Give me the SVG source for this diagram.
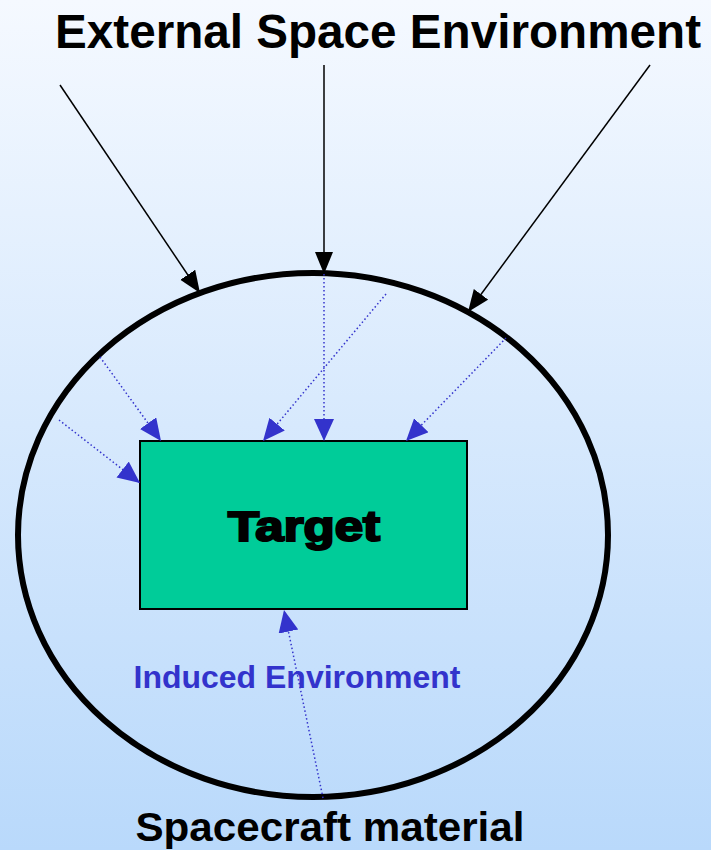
<svg xmlns="http://www.w3.org/2000/svg" width="711" height="850" viewBox="0 0 711 850">
  <defs>
    <linearGradient id="bg" x1="0" y1="0" x2="0" y2="1">
      <stop offset="0" stop-color="#F5F9FF"/>
      <stop offset="1" stop-color="#B9D9FB"/>
    </linearGradient>
    <marker id="blk" markerUnits="userSpaceOnUse" markerWidth="24" markerHeight="20" refX="22" refY="9" orient="auto">
      <path d="M0,0 L22,9 L0,18 Z" fill="#000"/>
    </marker>
    <marker id="blu" markerUnits="userSpaceOnUse" markerWidth="24" markerHeight="22" refX="22" refY="10" orient="auto">
      <path d="M0,0 L22,10 L0,20 Z" fill="#3333CC"/>
    </marker>
  </defs>
  <style>
    .ext { stroke: #000; stroke-width: 1.5; fill: none; marker-end: url(#blk); }
    .ind { stroke: #3333CC; stroke-width: 1.5; stroke-dasharray: 1.5 2.5; fill: none; marker-end: url(#blu); }
    .lbl { font-family: "Liberation Sans", Arial, sans-serif; font-weight: bold; }
  </style>
  <rect x="0" y="0" width="711" height="850" fill="url(#bg)"/>

  <g id="title">
    <text class="lbl" x="378" y="48" font-size="48" text-anchor="middle" textLength="646" lengthAdjust="spacingAndGlyphs" fill="#000">External Space Environment</text>
  </g>

  <g id="spacecraft">
    <ellipse cx="313" cy="535" rx="295" ry="262" fill="none" stroke="#000" stroke-width="6"/>
  </g>

  <g id="target">
    <rect x="140" y="441" width="327" height="168" fill="#00CC99" stroke="#000" stroke-width="2"/>
    <text class="lbl" x="304" y="541" font-size="42" text-anchor="middle" textLength="152" lengthAdjust="spacingAndGlyphs" fill="#000" stroke="#000" stroke-width="2.2">Target</text>
  </g>

  <g id="labels">
    <text class="lbl" x="297" y="688" font-size="31" text-anchor="middle" textLength="327" lengthAdjust="spacingAndGlyphs" fill="#3333CC">Induced Environment</text>
    <text class="lbl" x="330" y="841" font-size="41" text-anchor="middle" textLength="389" lengthAdjust="spacingAndGlyphs" fill="#000">Spacecraft material</text>
  </g>

  <g id="connectors">
    <line class="ext" x1="60" y1="85" x2="200" y2="293"/>
    <line class="ext" x1="324" y1="65" x2="324" y2="274"/>
    <line class="ext" x1="650" y1="65" x2="468" y2="312"/>
    <line class="ind" x1="100" y1="357" x2="161" y2="441"/>
    <line class="ind" x1="59" y1="420" x2="140" y2="483"/>
    <line class="ind" x1="386" y1="294" x2="263" y2="441"/>
    <line class="ind" x1="324" y1="274" x2="324" y2="441"/>
    <line class="ind" x1="506" y1="338" x2="406" y2="441"/>
    <line class="ind" x1="323" y1="798" x2="284" y2="610"/>
  </g>
</svg>
